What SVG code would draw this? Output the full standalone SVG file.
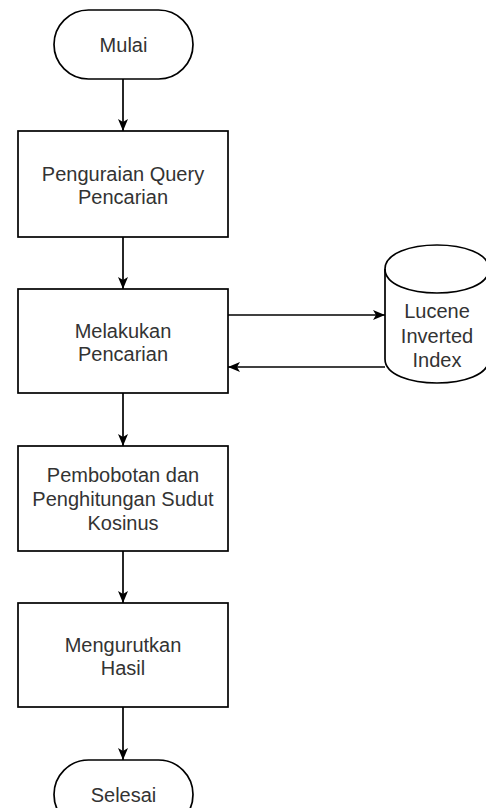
<svg xmlns="http://www.w3.org/2000/svg" width="486" height="808" viewBox="0 0 486 808">
<style>
.shape{fill:#ffffff;stroke:#000000;stroke-width:1.7}
.edge{fill:none;stroke:#000000;stroke-width:1.7}
text{font-family:"Liberation Sans",Arial,sans-serif;font-size:20px;fill:#333333;text-anchor:middle}
</style>
<defs>
<marker id="arrow" viewBox="0 0 12 10" refX="12" refY="5" markerWidth="12" markerHeight="10" markerUnits="userSpaceOnUse" orient="auto">
<path d="M0,0 L12,5 L0,10 L3,5 Z" fill="#000000"/>
</marker>
</defs>
<g id="connectors">
<line class="edge" x1="123" y1="79" x2="123" y2="131" marker-end="url(#arrow)"/>
<line class="edge" x1="123" y1="237" x2="123" y2="289" marker-end="url(#arrow)"/>
<line class="edge" x1="123" y1="393" x2="123" y2="446" marker-end="url(#arrow)"/>
<line class="edge" x1="123" y1="551" x2="123" y2="603" marker-end="url(#arrow)"/>
<line class="edge" x1="123" y1="707" x2="123" y2="760" marker-end="url(#arrow)"/>
<line class="edge" x1="228" y1="315" x2="385" y2="315" marker-end="url(#arrow)"/>
<line class="edge" x1="385" y1="367" x2="228" y2="367" marker-end="url(#arrow)"/>
</g>
<g id="mulai">
<rect class="shape" x="54" y="10" width="139" height="69" rx="34.5" ry="34.5"/>
<text x="123.5" y="52">Mulai</text>
</g>
<g id="penguraian">
<rect class="shape" x="18" y="131" width="210" height="106"/>
<text x="123" y="181">Penguraian Query</text>
<text x="123" y="204">Pencarian</text>
</g>
<g id="melakukan">
<rect class="shape" x="18" y="289" width="210" height="104"/>
<text x="123" y="338">Melakukan</text>
<text x="123" y="361">Pencarian</text>
</g>
<g id="pembobotan">
<rect class="shape" x="18" y="446" width="210" height="105"/>
<text x="123" y="482">Pembobotan dan</text>
<text x="123" y="506">Penghitungan Sudut</text>
<text x="123" y="530">Kosinus</text>
</g>
<g id="mengurutkan">
<rect class="shape" x="18" y="603" width="210" height="104"/>
<text x="123" y="652">Mengurutkan</text>
<text x="123" y="675">Hasil</text>
</g>
<g id="selesai">
<rect class="shape" x="54" y="760" width="139" height="69" rx="34.5" ry="34.5"/>
<text x="123.5" y="802">Selesai</text>
</g>
<g id="lucene">
<path class="shape" d="M385,269 C385,237 489,237 489,269 L489,359 C489,391 385,391 385,359 Z"/>
<path class="edge" d="M385,269 C385,301 489,301 489,269"/>
<text x="437" y="318">Lucene</text>
<text x="437" y="343">Inverted</text>
<text x="437" y="367">Index</text>
</g>
</svg>
